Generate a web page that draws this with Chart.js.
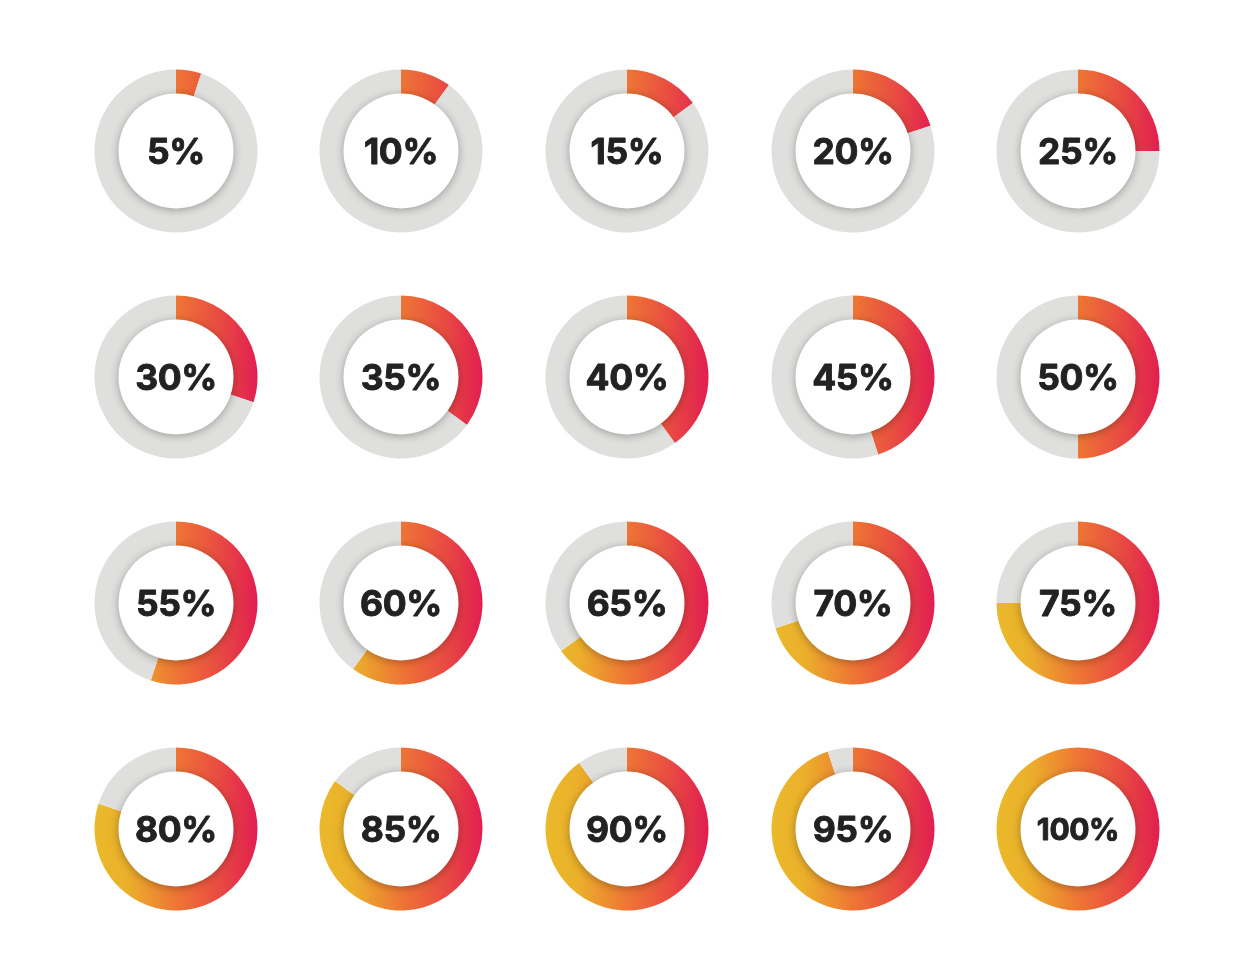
<!DOCTYPE html>
<html><head><meta charset="utf-8">
<script src="https://cdn.jsdelivr.net/npm/chart.js@4"></script>
<style>
html,body{margin:0;padding:0;background:#fff;width:1254px;height:980px;overflow:hidden}
canvas{position:absolute;display:block}
</style></head><body>
<script>
const categories = ['5%','10%','15%','20%','25%','30%','35%','40%','45%','50%','55%','60%','65%','70%','75%','80%','85%','90%','95%','100%'];
const filledValues = [5,10,15,20,25,30,35,40,45,50,55,60,65,70,75,80,85,90,95,100];
const remainingValues = [95,90,85,80,75,70,65,60,55,50,45,40,35,30,25,20,15,10,5,0];

const columnCenters = [175.5,401,627,852.5,1078];
const rowCenters = [151,377,603,829];
const SIZE = 180, OUTER = 81.5, INNER = 57.5;

const centerPlugin = {
  id:'centerPlugin',
  afterDatasetsDraw(chart){
    const ctx = chart.ctx, arc = chart.getDatasetMeta(0).data[0];
    const x = arc.x, y = arc.y;
    ctx.save();
    ctx.shadowColor = 'rgba(0,0,0,0.3)';
    ctx.shadowBlur = 8;
    ctx.shadowOffsetY = 1.5;
    ctx.fillStyle = '#fff';
    ctx.beginPath(); ctx.arc(x,y,INNER,0,Math.PI*2); ctx.fill();
    ctx.restore();
    const label = chart.data.labels[0];
    ctx.save();
    ctx.fillStyle = '#222222';
    ctx.strokeStyle = '#222222';
    ctx.lineWidth = 0.9;
    ctx.lineJoin = 'round';
    ctx.font = '700 ' + (label.length > 3 ? 30 : 35.5) + 'px Inter';
    ctx.letterSpacing = '-0.4px';
    ctx.textAlign = 'center';
    ctx.textBaseline = 'middle';
    ctx.fillText(label, x, y + 2);
    ctx.strokeText(label, x, y + 2);
    ctx.restore();
  }
};

categories.forEach((label,i)=>{
  const cx = columnCenters[i%5], cy = rowCenters[Math.floor(i/5)];
  const canvas = document.createElement('canvas');
  canvas.style.left = (cx-SIZE/2)+'px';
  canvas.style.top = (cy-SIZE/2)+'px';
  canvas.style.width = SIZE+'px';
  canvas.style.height = SIZE+'px';
  document.body.appendChild(canvas);
  new Chart(canvas,{
    type:'doughnut',
    data:{
      labels:[label,'rest'],
      datasets:[{
        data:[filledValues[i],remainingValues[i]],
        backgroundColor(c){
          if(c.dataIndex===1) return '#DFDFDD';
          const g = c.chart.ctx.createLinearGradient(SIZE/2-OUTER,0,SIZE/2+OUTER,0);
          g.addColorStop(0,'#EAB92A');
          g.addColorStop(0.2,'#EBB02B');
          g.addColorStop(0.5,'#EE7634');
          g.addColorStop(0.75,'#E94E41');
          g.addColorStop(1,'#E11E50');
          return g;
        },
        borderWidth:0,
        radius:OUTER,
        cutout:INNER
      }]
    },
    options:{
      responsive:false,
      animation:false,
      layout:{padding:0},
      plugins:{legend:{display:false},tooltip:{enabled:false}},
      events:[]
    },
    plugins:[centerPlugin]
  });
});
</script>
</body></html>
